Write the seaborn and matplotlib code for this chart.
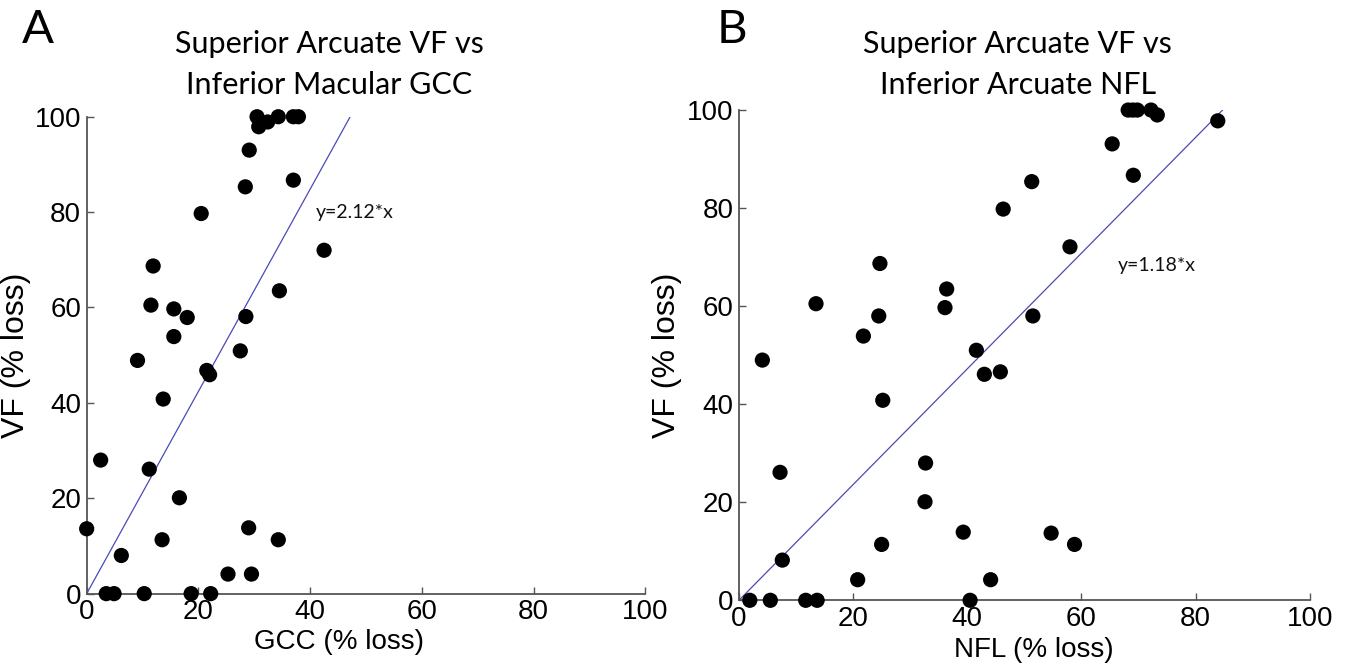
import matplotlib
matplotlib.use("Agg")
import matplotlib.pyplot as plt
from matplotlib import font_manager
import seaborn as sns
import pandas as pd

# Panel A: inferior macular GCC loss vs superior arcuate VF loss
gcc_loss = [30.5, 34.3, 37.0, 37.9, 32.4, 30.8, 29.1, 28.4, 37.0, 20.5,
            42.5, 11.9, 11.5, 15.6, 18.0, 15.6, 34.5, 28.5, 27.5, 9.1,
            21.5, 22.0, 13.7, 2.5, 11.2, 16.6, 0.0, 29.0, 13.5, 34.3,
            6.2, 25.3, 29.5, 3.5, 4.9, 10.3, 18.7, 22.2]
vf_loss_a = [100, 100, 100, 100, 98.9, 97.9, 93.0, 85.3, 86.7, 79.7,
             72.0, 68.7, 60.5, 59.7, 57.9, 53.9, 63.5, 58.1, 50.9, 48.9,
             46.8, 45.9, 40.8, 28.0, 26.1, 20.1, 13.6, 13.8, 11.3, 11.3,
             8.0, 4.1, 4.1, 0, 0, 0, 0, 0]

# Panel B: inferior arcuate NFL loss vs superior arcuate VF loss
nfl_loss = [68.2, 69.0, 69.8, 72.2, 73.3, 83.9, 65.4, 69.1, 51.3, 46.3,
            58.0, 24.7, 36.4, 13.5, 36.1, 24.5, 51.5, 21.8, 41.6, 4.1,
            43.0, 45.8, 25.2, 32.7, 7.2, 32.6, 39.3, 54.7, 25.0, 58.8,
            7.6, 20.8, 44.1, 1.9, 5.5, 11.7, 13.7, 40.5]
vf_loss_b = [100, 100, 100, 100, 99.0, 97.8, 93.1, 86.7, 85.4, 79.8,
             72.1, 68.7, 63.5, 60.5, 59.7, 58.0, 58.0, 53.9, 51.0, 49.0,
             46.1, 46.6, 40.8, 28.0, 26.1, 20.1, 13.9, 13.7, 11.4, 11.4,
             8.2, 4.2, 4.2, 0, 0, 0, 0, 0]

# Through-origin fit slopes
slope_a = 2.12
slope_b = 1.18

ticks = [0, 20, 40, 60, 80, 100]

sns.set_style("white")
available = {f.name for f in font_manager.fontManager.ttflist}
tick_font = ["Liberation Sans", "DejaVu Sans"]
title_font = ["Lato", "DejaVu Sans"] if "Lato" in available else ["DejaVu Sans"]
plt.rcParams["font.family"] = tick_font
plt.rcParams["text.color"] = "black"
plt.rcParams["axes.labelcolor"] = "black"
plt.rcParams["xtick.color"] = "black"
plt.rcParams["ytick.color"] = "black"

fig = plt.figure(figsize=(13.46, 6.67), dpi=100)
ax_a = fig.add_axes([0.0644, 0.110, 0.415, 0.715])
ax_b = fig.add_axes([0.549, 0.100, 0.424, 0.735])

line_color = "#4a4ab8"
axis_color = "#555555"

panels = [
    (ax_a, gcc_loss, vf_loss_a, slope_a, "GCC (% loss)", 0.452,
     "y=2.12*x", (41.0, 80.0)),
    (ax_b, nfl_loss, vf_loss_b, slope_b, "NFL (% loss)", 0.517,
     "y=1.18*x", (66.3, 68.3)),
]

for ax, xs, ys, slope, xlabel, xlab_pos, eq_text, eq_pos in panels:
    df = pd.DataFrame({"x": xs, "y": ys})
    fit = pd.DataFrame({"x": [0.0, 100.0 / slope]})
    fit["y"] = slope * fit["x"]
    sns.lineplot(data=fit, x="x", y="y", ax=ax, color=line_color,
                 linewidth=0.9, zorder=2)
    sns.scatterplot(data=df, x="x", y="y", ax=ax, color="black", s=120,
                    edgecolor="none", linewidth=0, zorder=3, clip_on=False)
    ax.set_xlim(0, 100)
    ax.set_ylim(0, 100)
    ax.set_xticks(ticks)
    ax.set_yticks(ticks)
    ax.set_xlabel(xlabel, fontsize=20)
    ax.set_ylabel("VF (% loss)", fontsize=23)
    ax.xaxis.set_label_coords(xlab_pos, -0.075)
    ax.yaxis.set_label_coords(-0.1, 0.5)
    ax.tick_params(direction="in", length=5, width=1.0, color=axis_color,
                   labelsize=20, pad=4, bottom=True, left=True,
                   labelcolor="black")
    for side in ("top", "right"):
        ax.spines[side].set_visible(False)
    for side in ("left", "bottom"):
        ax.spines[side].set_color(axis_color)
        ax.spines[side].set_linewidth(1.3)
    ax.text(eq_pos[0], eq_pos[1], eq_text, fontsize=14, family=title_font,
            va="center", ha="left", color="#111111")

fig.text(0.2444, 0.903, "Superior Arcuate VF vs\nInferior Macular GCC",
         ha="center", va="center", fontsize=22, family=title_font,
         linespacing=1.55)
fig.text(0.756, 0.903, "Superior Arcuate VF vs\nInferior Arcuate NFL",
         ha="center", va="center", fontsize=22, family=title_font,
         linespacing=1.55)
fig.text(0.028, 0.955, "A", ha="center", va="center", fontsize=34,
         family=title_font)
fig.text(0.544, 0.955, "B", ha="center", va="center", fontsize=34,
         family=title_font)

fig.savefig("out.png", dpi=100, facecolor="white")
